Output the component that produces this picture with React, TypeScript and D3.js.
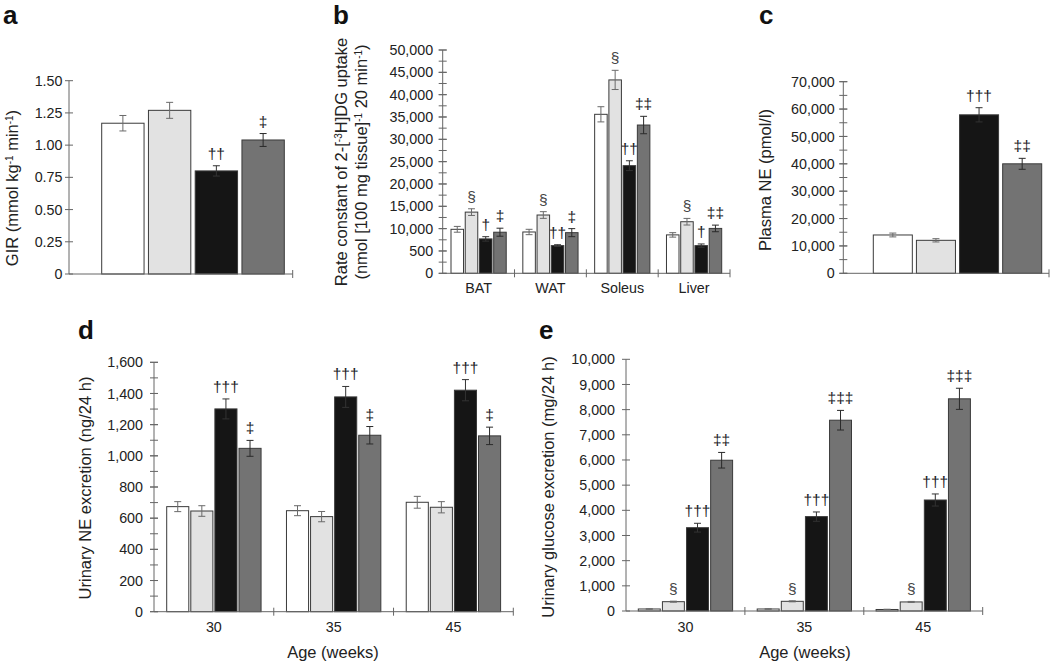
import React from "react";
import * as d3 from "d3";

// ---------- DATA ----------
const seriesKeys = ["s1", "s2", "s3", "s4"];

const aCategories = [""];
const aValues = [[1.17, 1.27, 0.8, 1.04]];
const aErrors = [[0.06, 0.062, 0.04, 0.05]];
const aMarks = [["", "", "††", "‡"]];
const aTickLabels = ["0", "0.25", "0.50", "0.75", "1.00", "1.25", "1.50"];

const bCategories = ["BAT", "WAT", "Soleus", "Liver"];
const bValues = [
  [9850, 13700, 7700, 9200],
  [9250, 13050, 6200, 9100],
  [35600, 43300, 24100, 33200],
  [8600, 11550, 6200, 10050],
];
const bErrors = [
  [650, 750, 500, 900],
  [600, 750, 200, 900],
  [1700, 2150, 1100, 1950],
  [500, 740, 370, 740],
];
const bMarks = [
  ["", "§", "†", "‡"],
  ["", "§", "††", "‡"],
  ["", "§", "††", "‡‡"],
  ["", "§", "†", "‡‡"],
];
const bTickLabels = ["0", "500", "10,000", "15,000", "20,000", "25,000", "30,000", "35,000", "40,000", "45,000", "50,000"];

const cCategories = [""];
const cValues = [[14000, 12050, 57900, 40000]];
const cErrors = [[700, 600, 2600, 2000]];
const cMarks = [["", "", "†††", "‡‡"]];
const cTickLabels = ["0", "10,000", "20,000", "30,000", "40,000", "50,000", "60,000", "70,000"];

const dCategories = ["30", "35", "45"];
const dValues = [
  [674, 646, 1301, 1048],
  [648, 610, 1378, 1132],
  [702, 670, 1421, 1128],
];
const dErrors = [
  [32, 34, 64, 51],
  [32, 33, 67, 56],
  [38, 36, 68, 56],
];
const dMarks = [
  ["", "", "†††", "‡"],
  ["", "", "†††", "‡"],
  ["", "", "†††", "‡"],
];
const dTickLabels = ["0", "200", "400", "600", "800", "1,000", "1,200", "1,400", "1,600"];

const eCategories = ["30", "35", "45"];
const eValues = [
  [80, 370, 3310, 5990],
  [80, 385, 3750, 7580],
  [60, 360, 4410, 8430],
];
const eErrors = [
  [10, 20, 175, 310],
  [10, 20, 185, 390],
  [10, 20, 240, 420],
];
const eMarks = [
  ["", "§", "†††", "‡‡"],
  ["", "§", "†††", "‡‡‡"],
  ["", "§", "†††", "‡‡‡"],
];
const eTickLabels = ["0", "1,000", "2,000", "3,000", "4,000", "5,000", "6,000", "7,000", "8,000", "9,000", "10,000"];

// ---------- STYLE ----------
const FONT = "'Liberation Sans', Arial, Helvetica, sans-serif";
const fills = ["#ffffff", "#e2e2e2", "#151515", "#737373"];
const errColors = ["#6a6a6a", "#6a6a6a", "#333333", "#2a2a2a"];
const axisColor = "#666";
const markColor = "#1a1a26";

type Spec = {
  x0: number; x1: number; yBase: number; yTop: number; yMax: number;
  majorStep: number; minorStep?: number; tickLabels: string[]; labelGap: number;
  categories: string[]; values: number[][]; errors: number[][]; marks: string[][];
  padL: number; padR: number; barPad: number; catLabelY?: number;
};

function Panel({ s }: { s: Spec }) {
  const y = d3.scaleLinear().domain([0, s.yMax]).range([s.yBase, s.yTop]);
  const xCat = d3.scaleBand<string>().domain(s.categories).range([s.x0, s.x1]).padding(0);
  const xSer = d3
    .scaleBand<string>()
    .domain(seriesKeys)
    .range([s.padL, xCat.bandwidth() - s.padR])
    .paddingInner(s.barPad)
    .paddingOuter(0);
  const majors = d3.range(0, s.yMax + 1e-9, s.majorStep);
  const minors = s.minorStep ? d3.range(0, s.yMax + 1e-9, s.minorStep) : [];
  const bw = xSer.bandwidth();
  const cap = Math.min(7, bw * 0.55);
  return (
    <g>
      <line x1={s.x0} x2={s.x0} y1={y(0)} y2={y(s.yMax)} stroke={axisColor} strokeWidth={1} />
      {minors.map((v, i) => (
        <line key={"mi" + i} x1={s.x0 - 4} x2={s.x0 + 4} y1={y(v)} y2={y(v)} stroke={axisColor} strokeWidth={1} />
      ))}
      {majors.map((v, i) => (
        <g key={"ma" + i}>
          <line x1={s.x0 - 4} x2={s.x0 + 4} y1={y(v)} y2={y(v)} stroke={axisColor} strokeWidth={1} />
          <text x={s.x0 - s.labelGap} y={y(v)} dy="0.36em" textAnchor="end" fontSize={14.3} fill="#222">
            {s.tickLabels[i]}
          </text>
        </g>
      ))}
      {s.categories.map((c, ci) => (
        <g key={"c" + ci} transform={`translate(${xCat(c)},0)`}>
          {seriesKeys.map((k, si) => {
            const v = s.values[ci][si];
            const bx = xSer(k)!;
            return (
              <rect key={k} x={bx} y={y(v)} width={bw} height={y(0) - y(v)} fill={fills[si]} stroke="#3a3a3a" strokeWidth={1} />
            );
          })}
          {seriesKeys.map((k, si) => {
            const v = s.values[ci][si];
            const e = s.errors[ci][si];
            const cx = xSer(k)! + bw / 2;
            const col = errColors[si];
            return (
              <g key={"e" + k} stroke={col} strokeWidth={1}>
                <line x1={cx} x2={cx} y1={y(v - e)} y2={y(v + e)} />
                <line x1={cx - cap / 2} x2={cx + cap / 2} y1={y(v + e)} y2={y(v + e)} />
                <line x1={cx - cap / 2} x2={cx + cap / 2} y1={y(v - e)} y2={y(v - e)} />
              </g>
            );
          })}
          {seriesKeys.map((k, si) => {
            const m = s.marks[ci][si];
            if (!m) return null;
            const v = s.values[ci][si];
            const e = s.errors[ci][si];
            const cx = xSer(k)! + bw / 2;
            return (
              <text key={"m" + k} x={cx} y={y(v + e) - 7} textAnchor="middle" fontSize={15.5} fill={m === "§" ? "#444" : markColor}>
                {m}
              </text>
            );
          })}
          {c && s.catLabelY ? (
            <text x={xCat.bandwidth() / 2} y={s.catLabelY} textAnchor="middle" fontSize={14.3} fill="#222">
              {c}
            </text>
          ) : null}
        </g>
      ))}
      <line x1={s.x0} x2={s.x1} y1={y(0)} y2={y(0)} stroke={axisColor} strokeWidth={1} />
      {s.categories.map((c, ci) => {
        const xx = xCat(c)! + xCat.bandwidth();
        return <line key={"xt" + ci} x1={xx} x2={xx} y1={y(0) - 4} y2={y(0) + 4} stroke={axisColor} strokeWidth={1} />;
      })}
    </g>
  );
}

const Sup = ({ t }: { t: string }) => (
  <tspan baselineShift="super" fontSize="10">
    {t}
  </tspan>
);

export default function App() {
  const specA: Spec = {
    x0: 69, x1: 292.7, yBase: 274, yTop: 80.7, yMax: 1.5, majorStep: 0.25,
    tickLabels: aTickLabels, labelGap: 6.5, categories: aCategories, values: aValues,
    errors: aErrors, marks: aMarks, padL: 32.7, padR: 8.4, barPad: 0.094,
  };
  const specB: Spec = {
    x0: 442.7, x1: 730, yBase: 273.3, yTop: 50, yMax: 50000, majorStep: 5000, minorStep: 2500,
    tickLabels: bTickLabels, labelGap: 9.5, categories: bCategories, values: bValues,
    errors: bErrors, marks: bMarks, padL: 8.3, padR: 8.3, barPad: 0.12, catLabelY: 293,
  };
  const specC: Spec = {
    x0: 843.3, x1: 1049, yBase: 273.3, yTop: 81.7, yMax: 70000, majorStep: 10000, minorStep: 5000,
    tickLabels: cTickLabels, labelGap: 8.5, categories: cCategories, values: cValues,
    errors: cErrors, marks: cMarks, padL: 30, padR: 7.3, barPad: 0.095,
  };
  const specD: Spec = {
    x0: 154, x1: 513.3, yBase: 611.7, yTop: 362.3, yMax: 1600, majorStep: 200, minorStep: 100,
    tickLabels: dTickLabels, labelGap: 11, categories: dCategories, values: dValues,
    errors: dErrors, marks: dMarks, padL: 12.7, padR: 12.7, barPad: 0.083, catLabelY: 632,
  };
  const specE: Spec = {
    x0: 626, x1: 982.7, yBase: 611, yTop: 359.3, yMax: 10000, majorStep: 1000,
    tickLabels: eTickLabels, labelGap: 11, categories: eCategories, values: eValues,
    errors: eErrors, marks: eMarks, padL: 12.3, padR: 12.3, barPad: 0.09, catLabelY: 632,
  };
  const titleSize = 16.5;
  return (
    <svg
      width={1050}
      height={661}
      viewBox="0 0 1050 661"
      style={{ position: "absolute", left: 0, top: 0, display: "block", background: "#fff" }}
      fontFamily={FONT}
    >
      <rect x={0} y={0} width={1050} height={661} fill="#fff" />
      <g fontWeight="bold" fontSize={26} fill="#111">
        <text x={3} y={23.5}>a</text>
        <text x={333} y={23.5}>b</text>
        <text x={759} y={23.5}>c</text>
        <text x={78} y={339}>d</text>
        <text x={539} y={339}>e</text>
      </g>

      <Panel s={specA} />
      <Panel s={specB} />
      <Panel s={specC} />
      <Panel s={specD} />
      <Panel s={specE} />

      <g fontSize={titleSize} fill="#222" textAnchor="middle">
        <text transform="translate(12,188) rotate(-90)" dy="0.35em">
          GIR (mmol kg<Sup t="-1" /> min<Sup t="-1" />)
        </text>
        <text transform="translate(341.5,162) rotate(-90)" dy="0.35em">
          Rate constant of 2-[<Sup t="-3" />H]DG uptake
        </text>
        <text transform="translate(361.5,162) rotate(-90)" dy="0.35em">
          (nmol [100 mg tissue]<Sup t="-1" /> 20 min<Sup t="-1" />)
        </text>
        <text transform="translate(765,180) rotate(-90)" dy="0.35em">
          Plasma NE (pmol/l)
        </text>
        <text transform="translate(85,488) rotate(-90)" dy="0.35em">
          Urinary NE excretion (ng/24 h)
        </text>
        <text transform="translate(548,487) rotate(-90)" dy="0.35em">
          Urinary glucose excretion (mg/24 h)
        </text>
      </g>

      <g fontSize={titleSize} fill="#222" textAnchor="middle">
        <text x={333} y={658}>Age (weeks)</text>
        <text x={805} y={658}>Age (weeks)</text>
      </g>
    </svg>
  );
}
